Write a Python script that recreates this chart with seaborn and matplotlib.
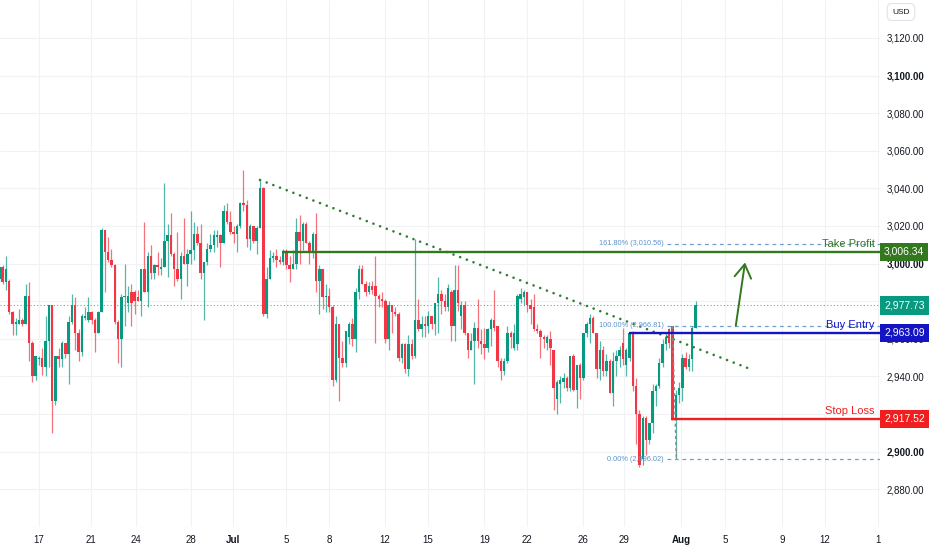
import numpy as np
import pandas as pd
import seaborn as sns
import matplotlib.pyplot as plt
from matplotlib.transforms import blended_transform_factory

# 6h candles (one value per candle)
opens = [
    2992, 2998, 2990, 2991, 2974, 2968, 2968, 2970, 2968, 2983,
    2958, 2940, 2949, 2950, 2945, 2959, 2978, 2927, 2951, 2949,
    2958, 2952, 2969, 2978, 2963, 2953, 2971, 2970, 2974, 2970,
    2963, 2974, 3018, 3006, 3002, 2999, 2969, 2960, 2982, 2979,
    2985, 2985, 2982, 2980, 2997, 2985, 3004, 2995, 2999, 2997,
    2998, 3012, 3015, 3005, 2997, 2992, 3004, 3000, 3005, 3007,
    3016, 3011, 2995, 3001, 3008, 3010, 3014, 3015, 3011, 3028,
    3022, 3017, 3016, 3020, 3032, 3031, 3013, 3020, 3012, 3019,
    3040, 2973, 2992, 3003, 3004, 3002, 3001, 3006, 2999, 2997,
    3000, 3017, 3012, 3021, 3011, 3006, 3016, 2991, 2997, 2982,
    2983, 2977, 2938, 2968, 2950, 2947, 2961, 2968, 2960, 2985,
    2997, 2989, 2985, 2988, 2988, 2983, 2981, 2980, 2960, 2978,
    2974, 2973, 2950, 2957, 2944, 2957, 2951, 2970, 2965, 2968,
    2967, 2972, 2968, 2979, 2984, 2980, 2977, 2985, 2967, 2986,
    2972, 2978, 2963, 2954, 2959, 2966, 2959, 2957, 2955, 2965,
    2970, 2967, 2948, 2943, 2948, 2963, 2955, 2957, 2981, 2982,
    2985, 2978, 2977, 2965, 2964, 2961, 2958, 2960, 2954, 2928,
    2936, 2937, 2939, 2934, 2951, 2933, 2946, 2939, 2963, 2968,
    2971, 2963, 2944, 2954, 2943, 2948, 2931, 2948, 2951, 2958,
    2946, 2950, 2963, 2935, 2920, 2896, 2918, 2906, 2915, 2932,
    2935, 2947, 2957, 2965, 2966.81, 2918, 2930, 2934, 2950, 2945,
    2949, 2966,
]
highs = [
    2999, 2999, 3004, 2992, 2975, 2971, 2976, 2971, 2989, 2990,
    2959, 2951, 2951, 2955, 2972, 2978, 2978, 2951, 2955, 2959,
    2958, 2972, 2984, 2982, 2965, 2973, 2977, 2982, 2975, 2971,
    2975, 3019, 3018, 3014, 3008, 3000, 2970, 2984, 3000, 2988,
    2989, 2986, 2986, 2997, 3022, 3006, 3010, 3000, 3006, 3003,
    3043, 3021, 3027, 3006, 3017, 3006, 3024, 3008, 3028, 3022,
    3020, 3021, 3001, 3011, 3016, 3018, 3018, 3016, 3031, 3032,
    3028, 3020, 3021, 3033, 3050, 3034, 3021, 3020, 3020, 3045,
    3041, 2998, 3007, 3006, 3008, 3004, 3008, 3008, 3004, 3007,
    3024, 3026, 3022, 3022, 3012, 3017, 3027, 2999, 2997, 2989,
    2987, 2978, 2972, 2968, 2959, 2964, 2969, 2971, 2987, 2999,
    2999, 2991, 2990, 2991, 3004, 2984, 2985, 2981, 2980, 2978,
    2977, 2974, 2958, 2958, 2962, 2960, 3013, 2981, 2972, 2972,
    2975, 2972, 2979, 2993, 2986, 2984, 2989, 2986, 2999, 2999,
    2980, 2980, 2963, 2963, 2969, 2981, 2965, 2966, 2966, 2971,
    2986, 2967, 2950, 2950, 2967, 2964, 2968, 2984, 2987, 2986,
    2985, 2981, 2984, 2968, 2965, 2962, 2962, 2964, 2954, 2938,
    2940, 2942, 2940, 2951, 2952, 2946, 2947, 2963, 2969, 2973,
    2972, 2963, 2959, 2956, 2952, 2949, 2953, 2954, 2956, 2966,
    2955, 2963, 2964, 2939, 2922, 2919, 2919, 2915, 2936, 2936,
    2950, 2960, 2963, 2966, 2966.81, 2933, 2937, 2952, 2953, 2952,
    2967, 2980,
]
lows = [
    2990, 2989, 2986, 2973, 2962, 2962, 2968, 2967, 2968, 2948,
    2937, 2938, 2946, 2941, 2940, 2945, 2910, 2925, 2945, 2945,
    2950, 2936, 2968, 2954, 2948, 2951, 2970, 2969, 2968, 2953,
    2963, 2974, 2985, 3001, 2998, 2968, 2947, 2945, 2967, 2974,
    2967, 2973, 2980, 2972, 2985, 2977, 2992, 2992, 2994, 2994,
    2998, 2993, 3004, 2988, 2991, 2981, 3000, 2988, 3000, 3002,
    3010, 2992, 2970, 2999, 3006, 3006, 3009, 2998, 3011, 3021,
    3016, 3011, 3006, 3019, 3028, 3009, 3007, 3011, 3005, 3019,
    2972, 2971, 2992, 3001, 2998, 3000, 2999, 2997, 2990, 2997,
    2997, 3000, 3007, 3011, 3000, 3003, 2985, 2973, 2976, 2974,
    2974, 2935, 2937, 2927, 2945, 2945, 2957, 2956, 2953, 2981,
    2989, 2983, 2984, 2984, 2958, 2977, 2977, 2958, 2954, 2963,
    2972, 2948, 2947, 2942, 2940, 2949, 2950, 2964, 2961, 2961,
    2963, 2965, 2962, 2963, 2973, 2975, 2975, 2959, 2959, 2975,
    2965, 2962, 2950, 2954, 2936, 2955, 2952, 2949, 2953, 2956,
    2964, 2945, 2938, 2941, 2947, 2955, 2954, 2954, 2979, 2978,
    2974, 2968, 2964, 2963, 2950, 2955, 2954, 2946, 2922, 2920,
    2926, 2934, 2932, 2932, 2932, 2923, 2928, 2938, 2961, 2958,
    2963, 2939, 2938, 2940, 2940, 2931, 2924, 2940, 2945, 2946,
    2940, 2948, 2932, 2904, 2892, 2893, 2898, 2904, 2910, 2924,
    2934, 2945, 2954, 2955, 2917, 2896, 2926, 2927, 2944, 2943,
    2943, 2966,
]
closes = [
    2998, 2990, 2997, 2974, 2968, 2969, 2970, 2968, 2983, 2958,
    2940, 2951, 2950, 2945, 2959, 2978, 2927, 2951, 2949, 2958,
    2952, 2969, 2978, 2963, 2953, 2972, 2972, 2974, 2970, 2963,
    2974, 3018, 3006, 3002, 2999, 2969, 2960, 2982, 2983, 2983,
    2979, 2980, 2980, 2997, 2985, 3004, 2995, 2999, 2998, 2998,
    3012, 3015, 3005, 2997, 2992, 3004, 3000, 3005, 3007, 3016,
    3011, 2995, 3001, 3008, 3010, 3015, 3015, 3011, 3028, 3022,
    3017, 3016, 3020, 3032, 3031, 3013, 3020, 3012, 3019, 3040,
    2973, 2992, 3003, 3004, 3002, 3001, 3006, 2999, 2997, 3000,
    3017, 3012, 3021, 3011, 3006, 3016, 2991, 2997, 2982, 2983,
    2977, 2938, 2968, 2950, 2947, 2964, 2968, 2960, 2985, 2997,
    2989, 2985, 2988, 2986, 2983, 2981, 2980, 2960, 2978, 2974,
    2973, 2950, 2957, 2944, 2957, 2951, 2970, 2965, 2968, 2967,
    2972, 2968, 2979, 2984, 2980, 2977, 2987, 2967, 2986, 2979,
    2978, 2963, 2954, 2959, 2966, 2959, 2957, 2955, 2965, 2970,
    2966, 2948, 2943, 2948, 2963, 2961, 2963, 2983, 2984, 2985,
    2978, 2976, 2965, 2964, 2961, 2960, 2961, 2955, 2934, 2937,
    2938, 2939, 2934, 2951, 2933, 2946, 2939, 2963, 2968, 2971,
    2963, 2944, 2954, 2943, 2948, 2931, 2948, 2951, 2954, 2949,
    2954, 2963, 2935, 2920, 2893, 2918, 2906, 2915, 2932, 2935,
    2947, 2957, 2961, 2958, 2918, 2930, 2934, 2950, 2945, 2949,
    2966, 2977.73,
]

# time axis labels (candle index where each label sits)
tick_labels = ['17', '21', '24', '28', 'Jul', '5', '8', '12', '15', '19',
               '22', '26', '29', 'Aug', '5', '9', '12', '1']
tick_pos = [12.0, 27.8, 41.4, 58.1, 70.8, 87.0, 99.9, 116.9, 129.9, 147.0,
            159.9, 176.8, 189.3, 206.6, 219.9, 237.2, 250.1, 266.3]

# drawing levels
take_profit = 3006.34
buy_entry = 2963.09
stop_loss = 2917.52
last_price = 2977.73
fib_levels = [3010.56, 2966.81, 2896.02]
fib_names = ['161.80%', '100.00%', '0.00%']
trend_x = [79, 227.5]
trend_y = [3044.5, 2944.0]

UP = '#089981'
DOWN = '#f23645'
TP_C = '#33771f'
BUY_C = '#1414c4'
SL_C = '#f01e1e'
FIB_C = '#6f9fd3'
TXT = '#131722'

sns.set_theme(style="white")
plt.rcParams['font.family'] = ['Liberation Sans', 'DejaVu Sans']

df = pd.DataFrame({'open': opens, 'high': highs, 'low': lows, 'close': closes})
df['idx'] = np.arange(len(df))
colors = np.where(df['close'] >= df['open'], UP, DOWN)

fig = plt.figure(figsize=(9.32, 5.5), dpi=100)
ax = fig.add_axes([0, 23 / 550, 880 / 932, 527 / 550])
xmax = 266.9

# grid
for p in range(2880, 3121, 20):
    ax.axhline(p, color='#f0f2f5', lw=0.8, zorder=0)
for t in tick_pos:
    ax.axvline(t, color='#f0f2f5', lw=0.8, zorder=0)

# candles
ax.vlines(df['idx'], df['low'], df['high'], colors=colors, lw=0.9, alpha=0.7, zorder=2)
body_lo = np.minimum(df['open'], df['close'])
body_h = np.maximum(np.abs(df['close'] - df['open']), 0.6)
ax.bar(df['idx'], body_h, bottom=body_lo, width=0.74, color=colors, linewidth=0, zorder=3)

# last price dotted line
ax.axhline(last_price, color=UP, lw=0.8, ls=(0, (1, 2)), alpha=0.7, zorder=1)

# descending trendline
trend = pd.DataFrame({'x': trend_x, 'y': trend_y})
sns.lineplot(data=trend, x='x', y='y', ax=ax, color='#2e7d32', lw=1.9, zorder=4)
ln = ax.lines[-1]
ln.set_linestyle((0, (0.01, 2.7)))
ln.set_dash_capstyle('round')

# fib retracement
ax.hlines(fib_levels, 202.5, xmax, colors=FIB_C, linestyles=(0, (3, 3)), lw=0.9, zorder=4)
for lvl, name in zip(fib_levels, fib_names):
    ax.text(201.4, lvl, f'{name} ({lvl:,.2f})', ha='right', va='center',
            fontsize=5.3, color='#5d93cc', zorder=5)
ax.plot([204, 205.2], [fib_levels[1], fib_levels[2]], color='#8a8a8a',
        ls=(0, (2, 2)), lw=1.1, zorder=4)

# trade levels
ax.hlines(take_profit, 85.8, xmax, color=TP_C, lw=1.7, zorder=4)
ax.hlines(buy_entry, 190.7, xmax, color=BUY_C, lw=1.7, zorder=4)
ax.hlines(stop_loss, 203.7, xmax, color=SL_C, lw=1.7, zorder=4)
for lvl, txt, col in [(take_profit, 'Take Profit', TP_C), (buy_entry, 'Buy Entry', BUY_C),
                      (stop_loss, 'Stop Loss', SL_C)]:
    ax.annotate(txt, xy=(265.3, lvl), xytext=(0, 2), textcoords='offset points',
                ha='right', va='bottom', fontsize=8, color=col, zorder=5)

# arrow up to target
ax.annotate('', xy=(226.0, 3000.6), xytext=(223.2, 2967.0),
            arrowprops=dict(arrowstyle='->,head_length=0.8,head_width=0.5',
                            color=TP_C, lw=1.4, shrinkA=0, shrinkB=0), zorder=5)

ax.set_xlim(0.21, xmax)
ax.set_ylim(2859.9, 3140.2)
for s in ax.spines.values():
    s.set_visible(False)

# price scale
yt = list(range(2880, 3121, 20))
ax.yaxis.tick_right()
ax.set_yticks(yt)
ax.set_yticklabels([f'{v:,.2f}' for v in yt])
ax.tick_params(axis='y', length=0, pad=5, labelsize=7, labelcolor=TXT)
for lab, v in zip(ax.get_yticklabels(), yt):
    if v % 100 == 0:
        lab.set_fontweight('bold')

# time scale
ax.set_xticks(tick_pos)
ax.set_xticklabels(tick_labels)
ax.tick_params(axis='x', length=0, pad=6, labelsize=7, labelcolor=TXT)
for lab in ax.get_xticklabels():
    if lab.get_text() in ('Jul', 'Aug'):
        lab.set_fontweight('bold')
ax.set_xlabel('')
ax.set_ylabel('')

# price tags on the scale
trans = blended_transform_factory(ax.transAxes, ax.transData)
for lvl, col in [(take_profit, TP_C), (last_price, UP), (buy_entry, BUY_C), (stop_loss, SL_C)]:
    ax.text(884 / 880, lvl, f'{lvl:,.2f}', transform=trans, ha='left', va='center',
            color='white', fontsize=7.5, clip_on=False, zorder=6,
            bbox=dict(boxstyle='square,pad=0.4', fc=col, ec='none'))

fig.text(901 / 932, 1 - 12 / 550, 'USD', ha='center', va='center', fontsize=6, color=TXT,
         bbox=dict(boxstyle='round,pad=0.6', fc='white', ec='#e0e3eb', lw=0.8))

fig.savefig('out.png', dpi=100)
